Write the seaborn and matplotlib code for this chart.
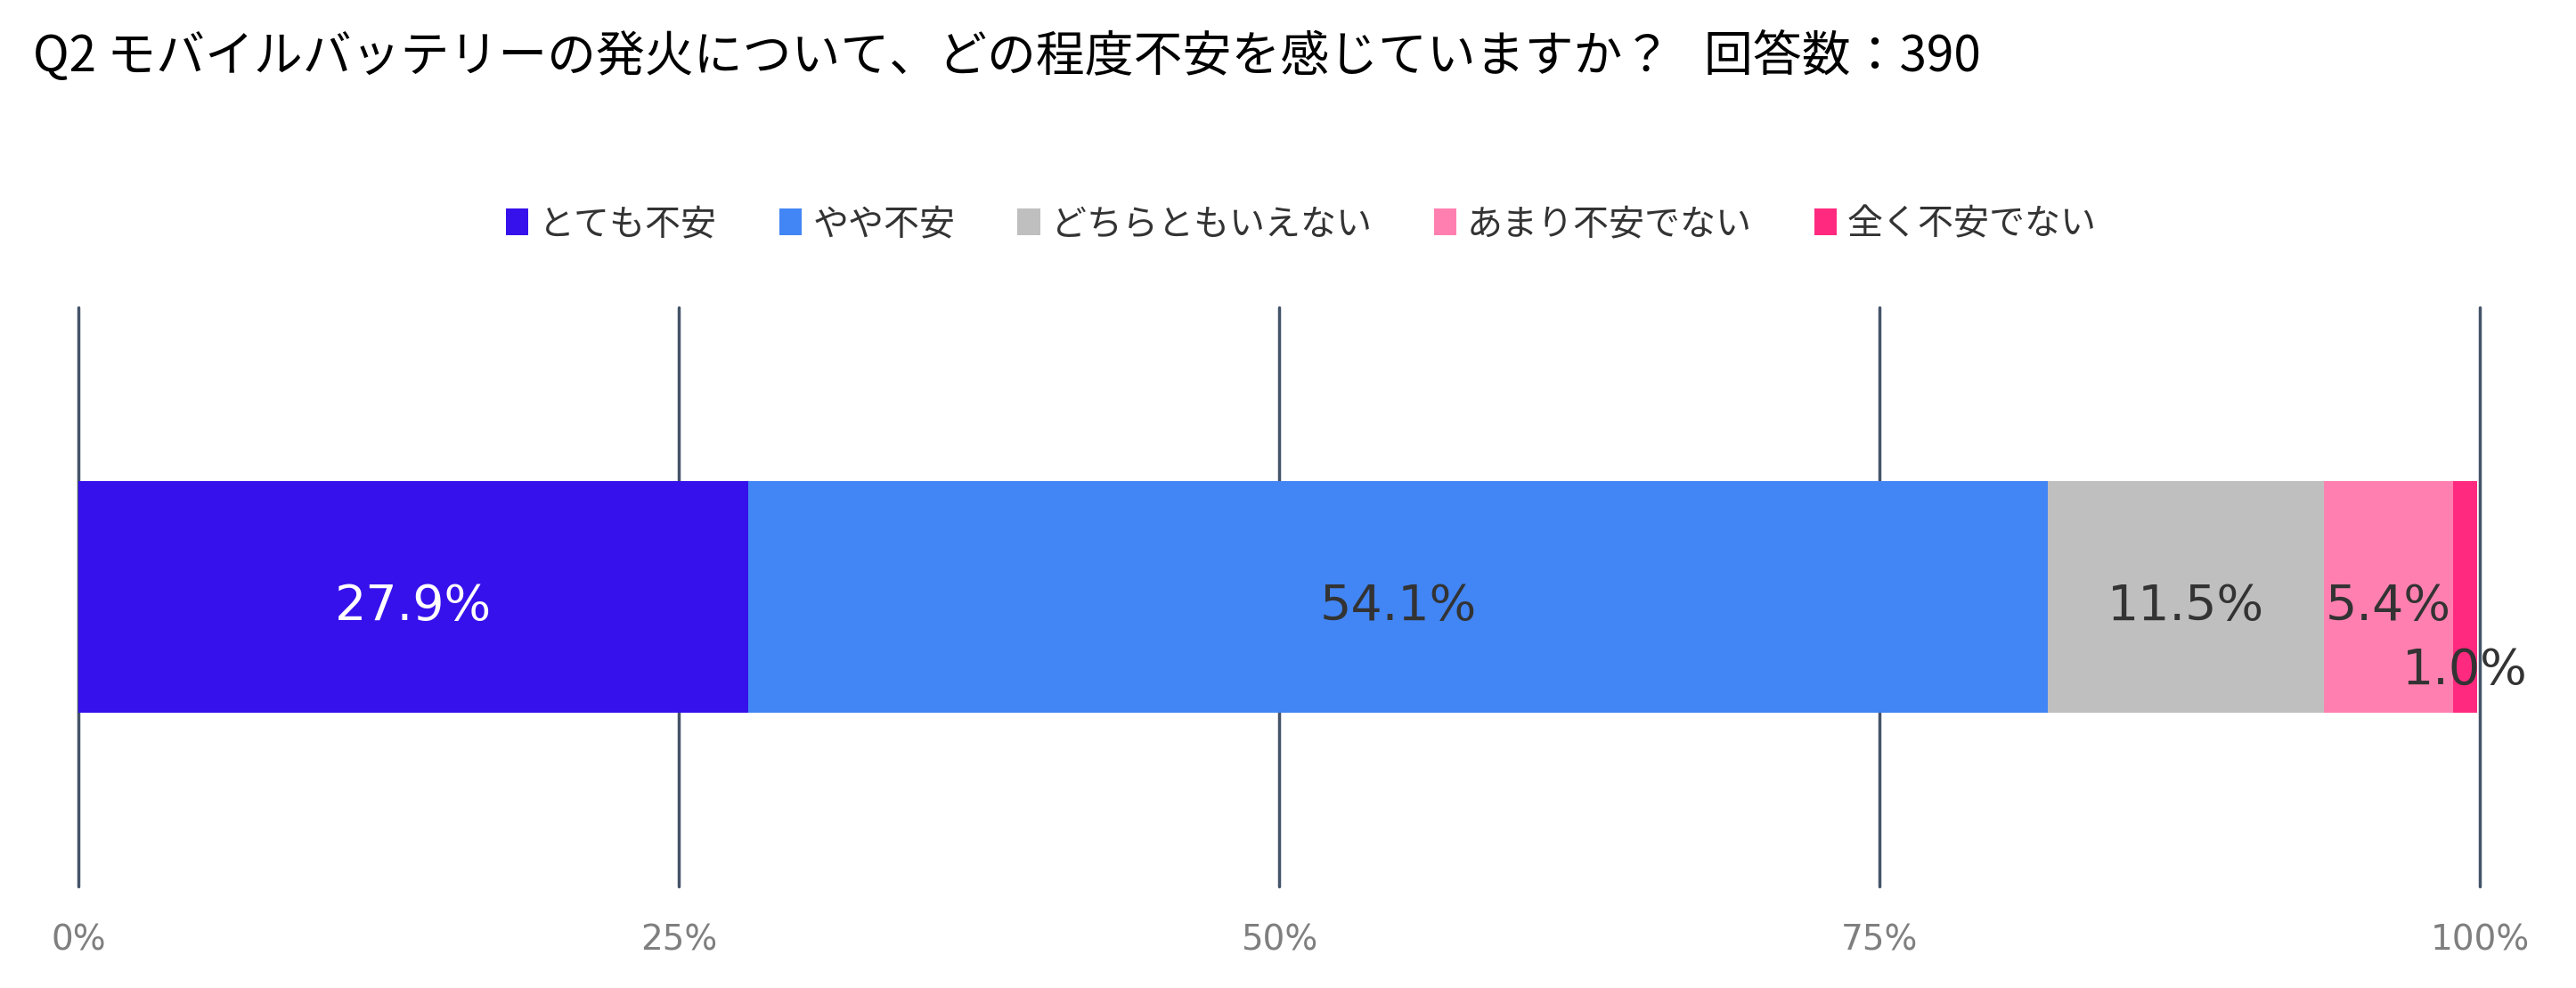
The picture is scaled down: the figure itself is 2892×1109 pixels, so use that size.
import numpy as np
import pandas as pd
import matplotlib
matplotlib.use('Agg')
import matplotlib.pyplot as plt
from matplotlib.patches import Patch
import seaborn as sns

# ─── DATA ─────────────────────────────────────────────────────────────────────
QUESTION = 'Q2'
CATEGORIES = ['とても不安', 'やや不安', 'どちらともいえない', 'あまり不安でない', '全く不安でない']
SHARES = [27.9, 54.1, 11.5, 5.4, 1.0]
TICKS = [0, 25, 50, 75, 100]
TICK_LABELS = ['0%', '25%', '50%', '75%', '100%']
TITLE = 'Q2 モバイルバッテリーの発火について、どの程度不安を感じていますか？   回答数：390'

# ─── STYLE ────────────────────────────────────────────────────────────────────
COLORS = ['#3711EB', '#4285F4', '#BFBFBF', '#FF80B0', '#FF2A7F']
LABEL_COLORS = ['white', '#333333', '#333333', '#333333', '#333333']
GRID_COLOR = '#44546A'

sns.set_style('white')
plt.rcParams['font.family'] = ['Noto Sans CJK JP', 'DejaVu Sans']

W, H, DPI = 2892, 1109, 100
fig = plt.figure(figsize=(W / DPI, H / DPI), dpi=DPI)
ax = fig.add_axes([88 / W, 1 - 995 / H, (2784 - 88) / W, 650 / H])

df = pd.DataFrame({'question': QUESTION, 'category': CATEGORIES, 'share': SHARES})
df['cum'] = df['share'].cumsum()
df['mid'] = df['cum'] - df['share'] / 2

# stacked bar: draw cumulative totals from the outermost segment inward
for i in reversed(range(len(df))):
    sns.barplot(data=df.iloc[[i]], x='cum', y='question', orient='h',
                color=COLORS[i], saturation=1, width=0.4, errorbar=None,
                linewidth=0, ax=ax)

# segment labels; tiny segments get their label pushed below the bar centre
for i, row in df.iterrows():
    y = 0.128 if row['share'] < 2 else 0.017
    ax.text(row['mid'], y, f"{row['share']:.1f}%", ha='center', va='center',
            fontsize=40, color=LABEL_COLORS[i], family='DejaVu Sans')

ax.set_xlim(0, 100)
ax.set_xticks(TICKS)
ax.set_xticklabels(TICK_LABELS, family='DejaVu Sans', fontsize=28, color='#7F7F7F')
ax.tick_params(axis='x', length=0, pad=30)
ax.set_yticks([])
ax.set_xlabel('')
ax.set_ylabel('')
ax.grid(axis='x', color=GRID_COLOR, linewidth=2.5)
for gl in ax.get_xgridlines():
    gl.set_clip_on(False)
ax.set_axisbelow(True)
for s in ax.spines.values():
    s.set_visible(False)

fig.text(37 / W, 1 - 64 / H, TITLE, ha='left', va='center', fontsize=39.5, color='black')

handles = [Patch(facecolor=c, edgecolor='none', label=l) for c, l in zip(COLORS, CATEGORIES)]
fig.legend(handles=handles, loc='center', bbox_to_anchor=(1461 / W, 1 - 252 / H),
           ncol=5, frameon=False, fontsize=28.8, handlelength=0.63, handleheight=0.75,
           handletextpad=0.3, columnspacing=1.75, labelcolor='#333333')

fig.savefig('out.png', dpi=DPI, facecolor='white')
